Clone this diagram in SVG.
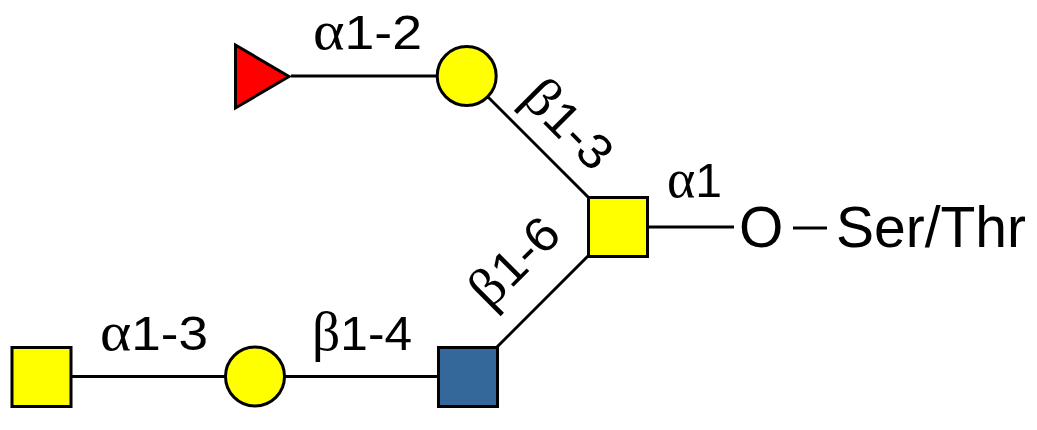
<svg xmlns="http://www.w3.org/2000/svg" width="1037" height="430" viewBox="0 0 1037 430">
<style>
.ln{stroke:#000;stroke-width:3;fill:none}
.sh{stroke:#000;stroke-width:3}
.lb{font-family:"Liberation Sans",Arial,sans-serif;font-size:49px;fill:#000}
.gk{font-family:"Liberation Serif","Times New Roman",serif;font-size:55px}
.big{font-family:"Liberation Sans",Arial,sans-serif;font-size:57px;fill:#000}
</style>
<rect width="1037" height="430" fill="#fff"/>
<g id="connectors">
<line class="ln" x1="291" y1="76" x2="467" y2="76"/>
<line class="ln" x1="467" y1="76" x2="588" y2="197"/>
<line class="ln" x1="497" y1="347" x2="588" y2="256"/>
<line class="ln" x1="71" y1="376.5" x2="467" y2="376.5"/>
<line class="ln" x1="648" y1="227" x2="734" y2="227"/>
<line class="ln" x1="793" y1="228" x2="827" y2="228"/>
</g>
<g id="labels">
<text class="lb" x="313" y="49" textLength="109" lengthAdjust="spacingAndGlyphs"><tspan class="gk">α</tspan>1-2</text>
<text class="lb" transform="translate(567,126) rotate(45)" x="-52" y="15" textLength="104" lengthAdjust="spacingAndGlyphs"><tspan class="gk">β</tspan>1-3</text>
<text class="lb" transform="translate(516,263) rotate(-45)" x="-52" y="15" textLength="104" lengthAdjust="spacingAndGlyphs"><tspan class="gk">β</tspan>1-6</text>
<text class="lb" x="100" y="350" textLength="108" lengthAdjust="spacingAndGlyphs"><tspan class="gk">α</tspan>1-3</text>
<text class="lb" x="312" y="350" textLength="100" lengthAdjust="spacingAndGlyphs"><tspan class="gk">β</tspan>1-4</text>
<text class="lb" x="667" y="197" textLength="55" lengthAdjust="spacingAndGlyphs"><tspan class="gk">α</tspan>1</text>
</g>
<g id="node-fuc">
<polygon class="sh" fill="#ff0000" points="235.5,45 235.5,108 289,76.5"/>
</g>
<g id="node-gal-top">
<circle class="sh" fill="#ffff00" cx="466.7" cy="76" r="29.5"/>
</g>
<g id="node-galnac-core">
<rect class="sh" fill="#ffff00" x="588.5" y="197.5" width="59" height="59"/>
</g>
<g id="node-glcnac">
<rect class="sh" fill="#35689a" x="438.5" y="347.5" width="59" height="59"/>
</g>
<g id="node-gal-bottom">
<circle class="sh" fill="#ffff00" cx="255" cy="376.5" r="29.5"/>
</g>
<g id="node-galnac-end">
<rect class="sh" fill="#ffff00" x="12" y="347.5" width="59" height="59"/>
</g>
<g id="aglycone">
<text class="big" x="739" y="247">O</text>
<text class="big" x="836" y="247">Ser/Thr</text>
</g>
</svg>
